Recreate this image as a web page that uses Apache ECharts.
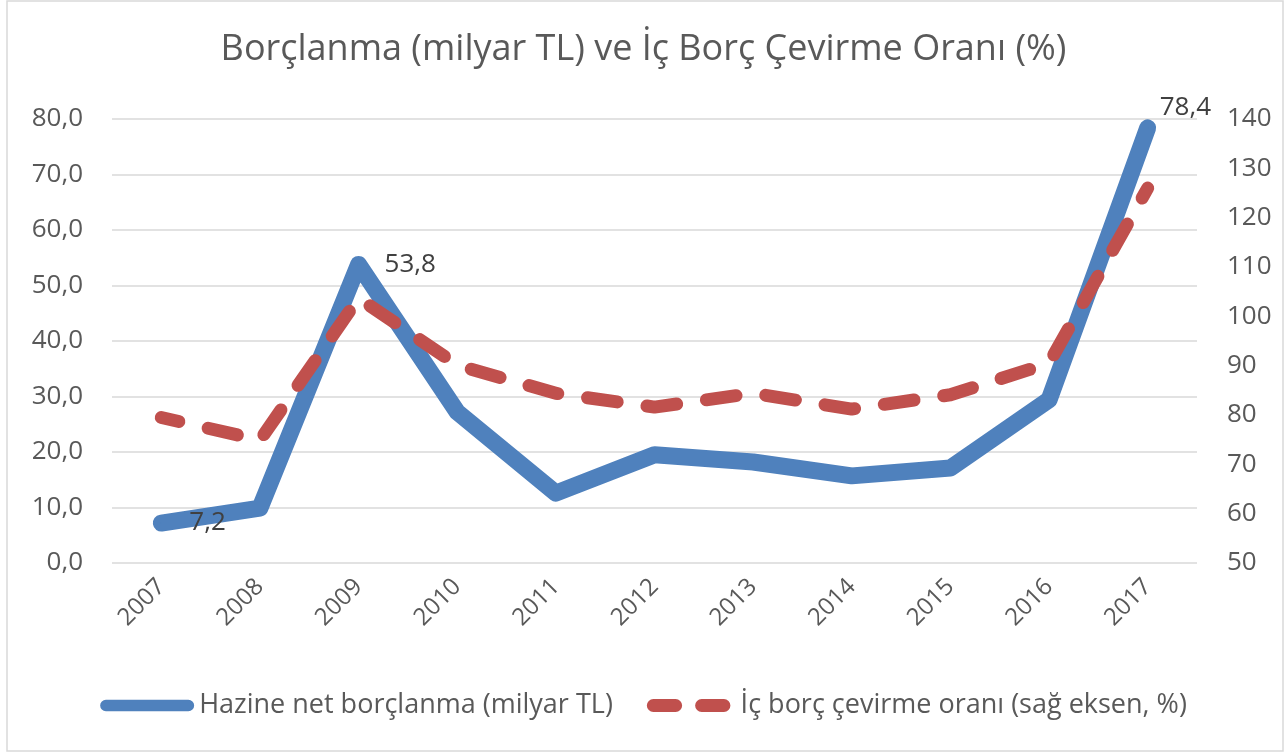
<!DOCTYPE html>
<html>
<head>
<meta charset="utf-8">
<script src="https://cdn.jsdelivr.net/npm/echarts@6/dist/echarts.min.js"></script>
<style>
  html, body { margin: 0; padding: 0; background: #fff; }
  #chart { width: 1287px; height: 753px; }
</style>
</head>
<body>
<div id="chart"></div>
<script>
// data
var years = ['2007', '2008', '2009', '2010', '2011', '2012', '2013', '2014', '2015', '2016', '2017'];
var netBorrowing = [7.2, 9.9, 53.8, 27.2, 12.6, 19.5, 18.2, 15.7, 17.1, 29.4, 78.4];
var rolloverRatio = [79.5, 74.9, 103.7, 90.1, 84.4, 81.6, 84.4, 81.2, 84.1, 90.5, 126];
// only these points carry a value label
var labelled = [0, 2, 10];
var labelOffsets = { 0: [22, 0], 2: [20, 0], 10: [6, -20] };

var fontName = '"Open Sans", "Liberation Sans", sans-serif';
var grey = '#595959';
var blue = '#4f81bd';
var red = '#c0504d';

var chart = echarts.init(document.getElementById('chart'));

// label only the three marked points, the others have no symbol
var blueData = netBorrowing.map(function (v, i) {
    if (labelled.indexOf(i) < 0) return { value: v, symbol: 'none' };
    return {
        value: v,
        label: { show: true, position: 'right', offset: labelOffsets[i] }
    };
});

// two rounded dashes for the legend
var dashIcon = 'path://M7,0 H31 A7,7 0 0 1 31,14 H7 A7,7 0 0 1 7,0 Z M59,0 H83 A7,7 0 0 1 83,14 H59 A7,7 0 0 1 59,0 Z';
var barIcon = 'path://M6,0 H92 A6,6 0 0 1 92,12 H6 A6,6 0 0 1 6,0 Z';

chart.setOption({
    title: {
        text: 'Borçlanma (milyar TL) ve İç Borç Çevirme Oranı (%)',
        left: 'center',
        top: 27,
        textStyle: { fontFamily: fontName, fontSize: 36, fontWeight: 'normal', color: grey }
    },
    graphic: [{
        type: 'rect',
        shape: { x: 7, y: 1, width: 1276, height: 750 },
        style: { fill: 'none', stroke: '#d9d9d9', lineWidth: 1.5 },
        silent: true
    }],
    legend: {
        top: 687,
        left: 'center',
        itemWidth: 94,
        itemHeight: 13,
        itemGap: 34,
        textStyle: { fontFamily: fontName, fontSize: 27, color: grey },
        data: [
            { name: 'Hazine net borçlanma (milyar TL)', icon: barIcon },
            { name: 'İç borç çevirme oranı (sağ eksen, %)', icon: dashIcon }
        ]
    },
    grid: { left: 112, right: 90, top: 119, bottom: 190 },
    xAxis: {
        type: 'category',
        data: years,
        boundaryGap: true,
        axisLine: { show: false },
        axisTick: { show: false },
        axisLabel: { rotate: 45, margin: 20, fontFamily: fontName, fontSize: 24, color: grey }
    },
    yAxis: [{
        type: 'value',
        min: 0, max: 80, interval: 10,
        axisLine: { show: false },
        axisTick: { show: false },
        splitLine: { lineStyle: { color: '#d9d9d9', width: 1.5 } },
        axisLabel: {
            margin: 29, fontFamily: fontName, fontSize: 26, color: grey,
            formatter: function (v) { return v.toFixed(1).replace('.', ','); }
        }
    }, {
        type: 'value',
        min: 50, max: 140, interval: 10,
        axisLine: { show: false },
        axisTick: { show: false },
        splitLine: { show: false },
        axisLabel: { margin: 30, fontFamily: fontName, fontSize: 26, color: grey }
    }],
    series: [{
        name: 'Hazine net borçlanma (milyar TL)',
        type: 'line',
        yAxisIndex: 0,
        data: blueData,
        symbol: 'circle',
        symbolSize: 2,
        showSymbol: true,
        lineStyle: { color: blue, width: 17, cap: 'round', join: 'round' },
        itemStyle: { color: blue },
        label: {
            show: false,
            fontFamily: fontName, fontSize: 26, color: '#404040',
            formatter: function (p) { return String(p.value).replace('.', ','); }
        },
        z: 2
    }, {
        name: 'İç borç çevirme oranı (sağ eksen, %)',
        type: 'line',
        yAxisIndex: 1,
        data: rolloverRatio,
        symbol: 'none',
        lineStyle: { color: red, width: 13, type: [30, 30], dashOffset: 12, cap: 'round', join: 'round' },
        itemStyle: { color: red },
        z: 3
    }]
});
</script>
</body>
</html>
